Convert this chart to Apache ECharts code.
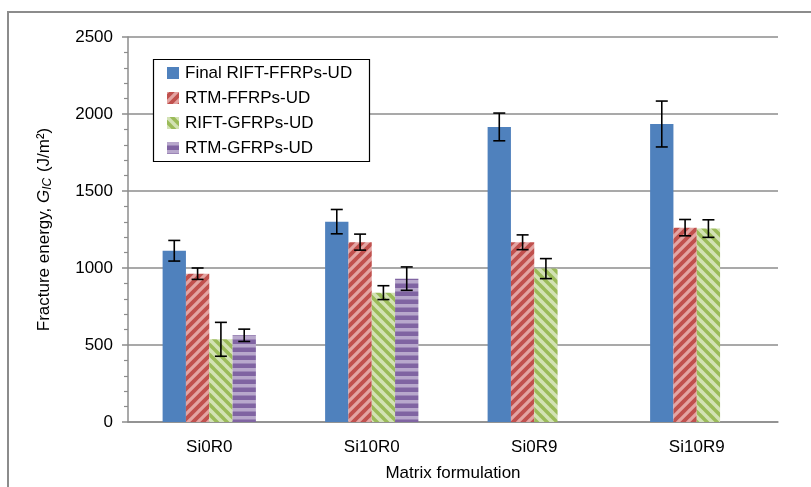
<!DOCTYPE html>
<html>
<head>
<meta charset="utf-8">
<script src="https://cdn.jsdelivr.net/npm/echarts@6/dist/echarts.min.js"></script>
<style>
  html, body { margin: 0; padding: 0; background: #fff; }
  #chart { width: 811px; height: 487px; }
</style>
</head>
<body>
<div id="chart"></div>
<script>
// Matrix formulations on the x axis
const categories = ['Si0R0', 'Si10R0', 'Si0R9', 'Si10R9'];

// Fracture energy G_IC (J/m²) per laminate type, with standard deviations
const seriesNames = ['Final RIFT-FFRPs-UD', 'RTM-FFRPs-UD', 'RIFT-GFRPs-UD', 'RTM-GFRPs-UD'];
const finalRiftFfrp = [1112, 1301, 1916, 1935];
const finalRiftFfrpErr = [67, 79, 90, 149];
const rtmFfrp = [963, 1168, 1167, 1262];
const rtmFfrpErr = [37, 52, 48, 53];
const riftGfrp = [537, 840, 996, 1256];
const riftGfrpErr = [110, 45, 65, 57];
const rtmGfrp = [563, 931, null, null];
const rtmGfrpErr = [40, 76, null, null];

// Y axis ticks
const yMin = 0, yMax = 2500, yStep = 500;

const FONT = "'Liberation Sans', Arial, sans-serif";
const FS = 17;
const GAP = 0.426;   // share of the category band left empty

// Fill patterns for the hatched bars
function stripeTile(base, stripe, size, width, dir) {
  const c = document.createElement('canvas');
  c.width = size; c.height = size;
  const g = c.getContext('2d');
  g.fillStyle = base;
  g.fillRect(0, 0, size, size);
  g.strokeStyle = stripe;
  g.lineWidth = width;
  g.lineCap = 'square';
  if (dir === 'h') {
    g.fillStyle = stripe;
    g.fillRect(0, 0, size, width);
  } else {
    for (let k = -1; k <= 1; k++) {
      const x0 = k * size;
      g.beginPath();
      if (dir === 'up') {           // "/" stripes
        g.moveTo(x0 - 1, size + 1);
        g.lineTo(x0 + size + 1, -1);
      } else {                      // "\" stripes
        g.moveTo(x0 - 1, -1);
        g.lineTo(x0 + size + 1, size + 1);
      }
      g.stroke();
    }
  }
  return { image: c, repeat: 'repeat' };
}

const colors = [
  '#4F81BD',
  stripeTile('#C0504D', '#E3A4A2', 10, 3.2, 'up'),
  stripeTile('#9BBB59', '#D3E2B4', 10, 3.6, 'down'),
  stripeTile('#8064A2', '#B8A8CC', 8, 3.5, 'h')
];

const values = [finalRiftFfrp, rtmFfrp, riftGfrp, rtmGfrp];
const errors = [finalRiftFfrpErr, rtmFfrpErr, riftGfrpErr, rtmGfrpErr];

const barSeries = seriesNames.map((name, s) => ({
  name: name,
  type: 'bar',
  data: values[s].map(v => (v == null ? '-' : v)),
  barGap: '0%',
  barCategoryGap: (GAP * 100) + '%',
  itemStyle: { color: colors[s] },
  emphasis: { disabled: true },
  z: 2
}));

// Error bars (mean ± SD) drawn over each bar slot
const errData = [];
values.forEach((arr, s) => {
  arr.forEach((v, i) => {
    if (v != null) errData.push([i, v, errors[s][i], s]);
  });
});

const errorSeries = {
  type: 'custom',
  name: 'errors',
  data: errData,
  z: 5,
  silent: true,
  renderItem: function (params, api) {
    const cat = api.value(0);
    const v = api.value(1);
    const e = api.value(2);
    const s = api.value(3);
    const band = api.size([1, 0])[0];
    const bw = band * (1 - GAP) / seriesNames.length;
    const cx = api.coord([cat, v])[0] + (s - (seriesNames.length - 1) / 2) * bw;
    const yTop = api.coord([cat, v + e])[1];
    const yBot = api.coord([cat, v - e])[1];
    const hw = 6;
    const st = { stroke: '#000', lineWidth: 1.6 };
    return {
      type: 'group',
      children: [
        { type: 'line', shape: { x1: cx, y1: yTop, x2: cx, y2: yBot }, style: st },
        { type: 'line', shape: { x1: cx - hw, y1: yTop, x2: cx + hw, y2: yTop }, style: st },
        { type: 'line', shape: { x1: cx - hw, y1: yBot, x2: cx + hw, y2: yBot }, style: st }
      ]
    };
  }
};

const chart = echarts.init(document.getElementById('chart'), null, { renderer: 'canvas' });

chart.setOption({
  animation: false,
  backgroundColor: '#fff',
  textStyle: { fontFamily: FONT },
  grid: { left: 128, right: 33, top: 37, bottom: 65, containLabel: false },
  graphic: [
    {
      type: 'rect',
      z: 0,
      shape: { x: 8, y: 12, width: 900, height: 600 },
      style: { fill: 'none', stroke: '#8C8C8C', lineWidth: 2 }
    },
    {
      type: 'rect',
      z: 10,
      shape: { x: 153.5, y: 59.5, width: 216, height: 102 },
      style: { fill: '#fff', stroke: '#000', lineWidth: 1.2 }
    }
  ],
  legend: {
    data: seriesNames,
    orient: 'vertical',
    left: 167,
    top: 64,
    padding: 0,
    itemWidth: 12,
    itemHeight: 12,
    itemGap: 7,
    z: 11,
    selectedMode: false,
    icon: 'rect',
    textStyle: { fontFamily: FONT, fontSize: FS, color: '#000', padding: [0, 0, 0, 1], lineHeight: 18 }
  },
  xAxis: {
    type: 'category',
    data: categories,
    name: 'Matrix formulation',
    nameLocation: 'middle',
    nameGap: 43,
    nameTextStyle: { fontFamily: FONT, fontSize: FS, color: '#000' },
    axisLine: { lineStyle: { color: '#8C8C8C', width: 1.5 } },
    axisTick: { show: false },
    axisLabel: { fontFamily: FONT, fontSize: FS, color: '#000', margin: 17 },
    splitLine: { show: false }
  },
  yAxis: {
    type: 'value',
    min: yMin,
    max: yMax,
    interval: yStep,
    name: 'Fracture energy, {i|G}{sub|IC} (J/m²)',
    nameLocation: 'middle',
    nameGap: 74,
    nameTextStyle: {
      fontFamily: FONT, fontSize: FS, color: '#000', lineHeight: 20,
      rich: {
        i: { fontFamily: FONT, fontSize: FS, fontStyle: 'italic', color: '#000', lineHeight: 20 },
        sub: { fontFamily: FONT, fontSize: 12, fontStyle: 'italic', color: '#000', lineHeight: 20, verticalAlign: 'bottom', padding: [6, 1, 0, 0] }
      }
    },
    axisLine: { show: true, lineStyle: { color: '#8C8C8C', width: 1.5 } },
    axisTick: { show: true, length: 6, lineStyle: { color: '#8C8C8C', width: 1.5 } },
    minorTick: { show: true, splitNumber: 5, length: 4, lineStyle: { color: '#8C8C8C', width: 1.2 } },
    axisLabel: { fontFamily: FONT, fontSize: FS, color: '#000', margin: 15, formatter: v => String(v) },
    splitLine: { show: true, lineStyle: { color: '#8C8C8C', width: 1.5 } }
  },
  series: barSeries.concat([errorSeries])
});
</script>
</body>
</html>
